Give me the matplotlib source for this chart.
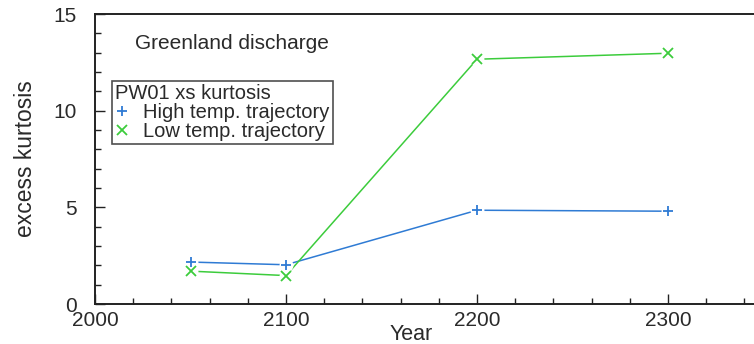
import matplotlib
matplotlib.use("Agg")
import matplotlib.pyplot as plt
from matplotlib.ticker import MultipleLocator

plt.rcParams['font.family'] = ['Liberation Sans', 'DejaVu Sans']

years = [2050, 2100, 2200, 2300]
high_temp = [2.17, 2.03, 4.85, 4.80]
low_temp = [1.70, 1.47, 12.66, 12.97]

blue = '#2f7bd4'
green = '#3ccc3c'
text_col = '#2a2a2a'

fig = plt.figure(figsize=(7.54, 3.44), dpi=100)
ax = fig.add_axes([95 / 754, 1 - 304 / 344, 1 - 95 / 754, (304 - 14) / 344])

for vals, col, mk, lab in [(high_temp, blue, '+', 'High temp. trajectory'),
                           (low_temp, green, 'x', 'Low temp. trajectory')]:
    ax.plot(years, vals, color=col, lw=1.1, zorder=2)
    # small white halo so the line stops short of each marker
    ax.plot(years, vals, ls='none', marker='o', ms=10, mfc='white', mec='none', zorder=3)
    ax.plot(years, vals, ls='none', marker=mk, ms=7.5, mew=1.3, color=col, zorder=4, label=lab)

ax.set_xlim(2000, 2345)
ax.set_ylim(0, 15)
ax.xaxis.set_major_locator(MultipleLocator(100))
ax.xaxis.set_minor_locator(MultipleLocator(20))
ax.yaxis.set_major_locator(MultipleLocator(5))
ax.yaxis.set_minor_locator(MultipleLocator(1))
ax.tick_params(which='both', direction='in', top=False, right=False, colors='#222222',
               labelsize=15, labelcolor=text_col)
ax.tick_params(which='major', length=7, width=1)
ax.tick_params(which='minor', length=4.5, width=1)
ax.tick_params(axis='y', pad=13)
ax.tick_params(axis='x', pad=5)
ax.spines['right'].set_visible(False)
for s in ('left', 'bottom', 'top'):
    ax.spines[s].set_linewidth(1.4)
    ax.spines[s].set_color('#222222')

ax.set_xlabel('Year', fontsize=15.5, color=text_col)
ax.xaxis.set_label_coords(0.48, -0.105)
ax.xaxis.label.set_va('center')
ax.set_ylabel('excess kurtosis', fontsize=16.5, color=text_col)
ax.yaxis.set_label_coords(-0.106, 0.50)
ax.yaxis.label.set_va('center')

ax.text(2021, 13.45, 'Greenland discharge', fontsize=15, color=text_col, va='center')

leg = ax.legend(title='PW01 xs kurtosis', loc='upper left', bbox_to_anchor=(0.026, 0.77),
                fontsize=14.5, title_fontsize=14.5, frameon=True, fancybox=False,
                borderpad=0.15, handlelength=0.7, handletextpad=0.7, labelspacing=0.0,
                borderaxespad=0)
leg._legend_box.align = 'left'
leg.get_title().set_color(text_col)
for t in leg.get_texts():
    t.set_color(text_col)
leg.get_frame().set_edgecolor('#222222')
leg.get_frame().set_linewidth(1.2)

fig.savefig('out.png', dpi=100)
